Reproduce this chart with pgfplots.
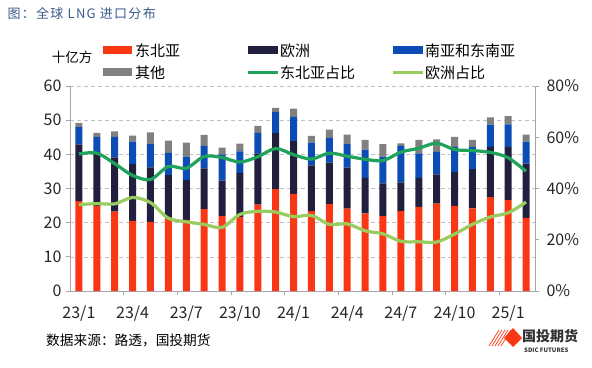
\documentclass[border=0pt]{standalone}
\usepackage{pgfplots}
\usepackage{pgfplotstable}
\pgfplotsset{compat=1.18}
\usepackage{fontspec}
\setmainfont{Noto Sans CJK SC}
\definecolor{cNE}{HTML}{FA3714}
\definecolor{cEU}{HTML}{211F3E}
\definecolor{cSA}{HTML}{0B4DB4}
\definecolor{cOT}{HTML}{808080}
\definecolor{cGL}{HTML}{1FA25A}
\definecolor{cLG}{HTML}{98CC5E}
\definecolor{axg}{HTML}{A6A6A6}
\definecolor{ttl}{HTML}{3A5A8C}
\pgfplotstableread{
i ne eu sa ot nes eus
0 26.3 16.6 5.1 1.2 53.5 33.7
1 24.9 15.8 4.4 1.2 53.8 34.1
2 23.2 15.9 6.0 1.6 49.7 34.0
3 20.5 16.6 6.6 1.8 45.1 36.5
4 20.2 16.0 6.8 3.4 43.5 34.5
5 21.4 12.5 6.5 3.6 48.6 28.4
6 20.8 11.7 6.8 4.1 47.9 27.0
7 24.0 11.9 6.6 3.2 52.5 26.0
8 21.9 10.4 7.7 2.0 52.1 24.8
9 21.7 12.9 6.3 2.2 50.3 29.9
10 25.3 15.0 6.0 2.0 52.4 31.1
11 29.8 16.5 6.1 1.2 55.6 30.8
12 28.4 15.5 7.1 2.4 53.2 29.0
13 23.4 13.4 6.6 2.0 51.5 29.5
14 25.4 12.2 7.2 2.4 53.8 26.0
15 24.1 12.0 6.9 2.8 52.6 26.2
16 22.7 10.4 8.3 2.8 51.4 23.5
17 21.9 9.6 7.8 3.7 50.9 22.3
18 23.4 8.4 10.7 0.7 54.2 19.4
19 24.6 8.5 7.2 3.9 55.7 19.2
20 25.6 8.5 6.6 3.7 57.7 19.1
21 24.9 10.0 7.3 2.9 55.2 22.2
22 24.2 11.5 6.5 2.0 54.8 26.0
23 27.5 14.7 6.5 2.1 54.1 28.9
24 26.6 15.6 6.6 2.4 52.0 30.5
25 21.4 15.9 6.4 2.1 46.7 34.7
}\data
\begin{document}
\begin{tikzpicture}
\begin{axis}[
  name=main,
  at={(70pt,76pt)}, anchor=south west, scale only axis,
  width=465pt, height=205pt,
  xmin=-0.5, xmax=25.5, ymin=0, ymax=60,
  ybar stacked, bar width=7pt,
  axis x line*=bottom, axis y line*=left,
  axis line style={axg, line width=0.8pt, -},
  ytick={0,10,...,60}, xtick={0,3,...,24},
  xticklabels={23/1,23/4,23/7,23/10,24/1,24/4,24/7,24/10,25/1},
  tick align=outside, major tick length=4pt,
  tick style={axg, line width=0.8pt}, xtick style={draw=none},
  ymajorgrids, grid style={axg!70, line width=0.6pt, dash pattern=on 4pt off 3pt},
  tick label style={font=\fontsize{16}{16}\selectfont, text=black!85},
  xticklabel style={yshift=-7pt},
  yticklabel style={xshift=-1pt},
  /pgf/number format/assume math mode=true,
  clip=false,
]
\addplot+[fill=cNE, draw=none] table[x=i,y=ne]{\data};
\addplot+[fill=cEU, draw=none] table[x=i,y=eu]{\data};
\addplot+[fill=cSA, draw=none] table[x=i,y=sa]{\data};
\addplot+[fill=cOT, draw=none] table[x=i,y=ot]{\data};
\pgfplotsinvokeforeach{2.5,5.5,8.5,11.5,14.5,17.5,20.5,23.5}{
  \draw[axg, line width=0.8pt] (axis cs:#1,0) -- ++(0pt,-4pt);
}
\end{axis}
\begin{axis}[
  at={(70pt,76pt)}, anchor=south west, scale only axis,
  width=465pt, height=205pt,
  xmin=-0.5, xmax=25.5, ymin=0, ymax=80,
  axis x line=none, axis y line*=right,
  axis line style={axg, line width=0.8pt, -},
  ytick={0,20,...,80},
  yticklabel={\pgfmathprintnumber{\tick}\%},
  tick align=outside, major tick length=4pt,
  tick style={axg, line width=0.8pt},
  tick label style={font=\fontsize{16}{16}\selectfont, text=black!85},
  yticklabel style={xshift=4pt},
  /pgf/number format/assume math mode=true,
]
\addplot[cGL, line width=3.2pt, smooth, tension=0.5] table[x=i,y=nes]{\data};
\addplot[cLG, line width=3.2pt, smooth, tension=0.5] table[x=i,y=eus]{\data};
\end{axis}
\pgfresetboundingbox
\begin{scope}[x=1pt,y=1pt]
\useasboundingbox (0,0) rectangle (592,367);
% title
\node[anchor=west, text=ttl, font=\fontsize{13}{13}\selectfont\addfontfeature{LetterSpace=10}] at (4,353) {图：全球 LNG 进口分布};
% unit
\node[font=\fontsize{13.5}{13.5}\selectfont] at (72,309.5) {十亿方};
% legend
\begin{scope}[every node/.style={anchor=west, inner sep=1pt, font=\fontsize{15}{15}\selectfont}]
\fill[cNE] (103,312.5) rectangle (132,320.5); \node at (134,316.5) {东北亚};
\fill[cEU] (248,312.5) rectangle (278,320.5); \node at (279,316.5) {欧洲};
\fill[cSA] (393,312.5) rectangle (423,320.5); \node at (424,316.5) {南亚和东南亚};
\fill[cOT] (103,290.5) rectangle (132,298.5); \node at (134,294.5) {其他};
\draw[cGL, line width=3pt] (248,294.5) -- (278,294.5); \node at (279,294.5) {东北亚占比};
\draw[cLG, line width=3pt] (393,294.5) -- (423,294.5); \node at (424,294.5) {欧洲占比};
\end{scope}
% source
\node[anchor=west, inner sep=0pt, font=\fontsize{13.7}{13.7}\selectfont] at (46,27) {数据来源：路透，国投期货};
% logo
\fill[cNE] (504,29) -- (513,39) -- (522,29) -- (513,20) -- cycle;
\foreach \k in {0,1,2,3,4} {\draw[cNE, line width=0.7pt] (489+3*\k,21) -- (499+3*\k,37);}
\node[anchor=west, inner sep=0pt, text=black!80, font=\fontsize{14}{14}\selectfont\bfseries] at (522,30.5) {国投期货};
\node[anchor=west, inner sep=0pt, text=black!80, font=\fontsize{6}{6}\selectfont\bfseries] at (524,17) {SDIC FUTURES};
\end{scope}
\end{tikzpicture}
\end{document}
